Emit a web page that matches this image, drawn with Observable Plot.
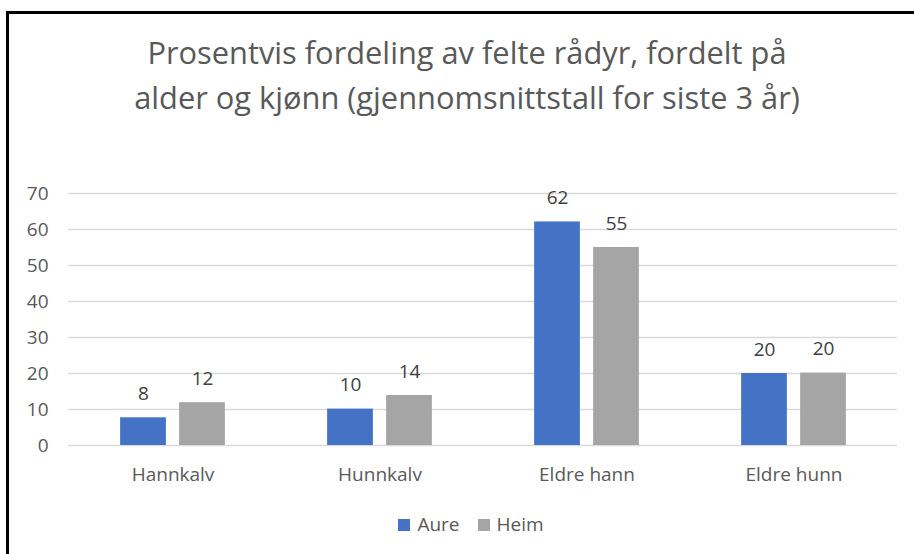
<!DOCTYPE html>
<html>
<head>
<meta charset="utf-8">
<script src="https://cdn.jsdelivr.net/npm/d3@7"></script>
<script src="https://cdn.jsdelivr.net/npm/@observablehq/plot@0.6"></script>
<style>
  html, body { margin: 0; padding: 0; background: #fff; width: 914px; height: 554px; overflow: hidden; }
  #frame { position: absolute; left: 6px; top: 11px; width: 920px; height: 560px;
           border-left: 3px solid #000; border-top: 3px solid #000; box-sizing: border-box; }
  #title { position: absolute; left: 10px; top: 30px; width: 914px; text-align: center;
           font-family: "Open Sans", sans-serif; font-size: 30.8px; line-height: 45px; color: #595959; }
  #chart { position: absolute; left: 0; top: 140px; }
  #legend { position: absolute; left: 14px; top: 511px; width: 914px; text-align: center;
            font-family: "Open Sans", sans-serif; font-size: 19px; color: #595959; }
  #legend span.item { display: inline-block; margin: 0 9px; }
  #legend span.sw { display: inline-block; width: 12px; height: 12px; margin-right: 7px; vertical-align: 0px; }
</style>
</head>
<body>
<div id="frame"></div>
<div id="title">Prosentvis fordeling av felte rådyr, fordelt på<br>alder og kjønn (gjennomsnittstall for siste 3 år)</div>
<div id="chart"></div>
<div id="legend"></div>
<script>
const categories = ["Hannkalv", "Hunnkalv", "Eldre hann", "Eldre hunn"];
const seriesNames = ["Aure", "Heim"];
const aure = [7.7, 10.1, 62.1, 20.0];
const heim = [11.9, 13.9, 55.0, 20.1];
const yTicks = [0, 10, 20, 30, 40, 50, 60, 70];
const colors = ["#4472C4", "#A5A5A5"];

const rows = (vals, s) => categories.map((c, i) => ({category: c, series: s, value: vals[i]}));
const aureRows = rows(aure, "Aure");
const heimRows = rows(heim, "Heim");

const barW = 46, offset = 29.5;
const step = (897 - 68) / categories.length;
const inset = (step - barW) / 2;
const fmt = d3.format(".0f");

const plot = Plot.plot({
  width: 914,
  height: 355,
  marginLeft: 68,
  marginRight: 17,
  marginTop: 53,
  marginBottom: 50,
  style: {fontFamily: "Open Sans, sans-serif", fontSize: "19px", color: "#595959", background: "transparent"},
  x: {domain: categories, padding: 0, label: null},
  y: {domain: [0, 70], label: null},
  color: {domain: seriesNames, range: colors},
  marks: [
    Plot.ruleY(yTicks, {stroke: "#d9d9d9", strokeWidth: 1.5}),
    Plot.axisY(yTicks, {tickSize: 0, tickPadding: 20, fontSize: 19, fill: "#595959", label: null}),
    Plot.axisX({tickSize: 0, tickPadding: 22, fontSize: 19, fill: "#595959", label: null}),
    Plot.barY(aureRows, {x: "category", y: "value", fill: "series", insetLeft: inset, insetRight: inset, dx: -offset}),
    Plot.barY(heimRows, {x: "category", y: "value", fill: "series", insetLeft: inset, insetRight: inset, dx: offset}),
    Plot.text(aureRows, {x: "category", y: "value", text: d => fmt(d.value), dx: -offset, dy: -24, fill: "#404040", fontSize: 19}),
    Plot.text(heimRows, {x: "category", y: "value", text: d => fmt(d.value), dx: offset, dy: -24, fill: "#404040", fontSize: 19})
  ]
});
document.getElementById("chart").appendChild(plot);

const legend = document.getElementById("legend");
seriesNames.forEach((s, i) => {
  const item = document.createElement("span");
  item.className = "item";
  const sw = document.createElement("span");
  sw.className = "sw";
  sw.style.background = colors[i];
  item.appendChild(sw);
  item.appendChild(document.createTextNode(s));
  legend.appendChild(item);
});
</script>
</body>
</html>
